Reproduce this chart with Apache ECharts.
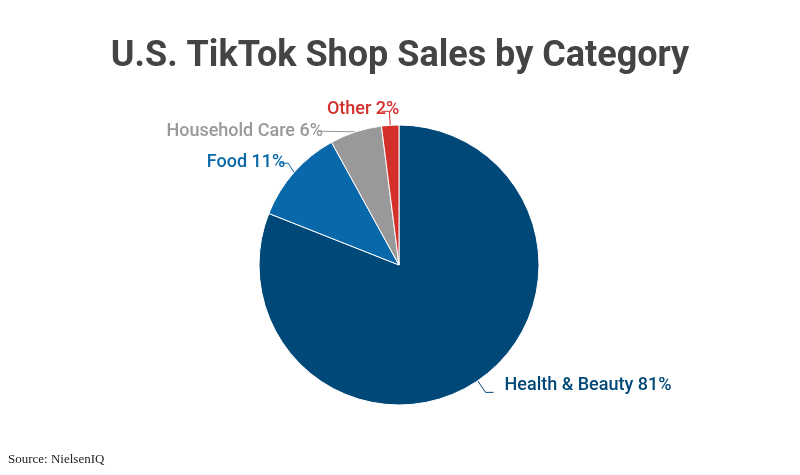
<!DOCTYPE html>
<html>
<head>
<meta charset="utf-8">
<script src="https://cdn.jsdelivr.net/npm/echarts@6/dist/echarts.min.js"></script>
<style>
  html, body { margin: 0; padding: 0; background: #fff; }
  #main { width: 800px; height: 475px; }
</style>
</head>
<body>
<div id="main"></div>
<script>
// data
var categories = ['Health & Beauty', 'Food', 'Household Care', 'Other'];
var shares = [81, 11, 6, 2];
var colors = ['#004877', '#0968a9', '#999999', '#d3302b'];
// label nudges [dx, dy]
var labelShift = [[6, -7], [10, -1], [9, 0], [23, -2]];

var myChart = echarts.init(document.getElementById('main'));

var data = categories.map(function (name, i) {
    return {
        value: shares[i],
        name: name,
        itemStyle: { color: colors[i] },
        label: { color: colors[i] },
        labelLine: { lineStyle: { color: colors[i] } }
    };
});

var option = {
    backgroundColor: '#fff',
    title: [{
        text: 'U.S. TikTok Shop Sales by Category',
        left: 'center',
        top: 34,
        textStyle: {
            fontFamily: 'Roboto',
            fontWeight: 'bold',
            fontSize: 36,
            color: '#444444'
        }
    }, {
        text: 'Source: NielsenIQ',
        left: 3,
        bottom: 4,
        textStyle: {
            fontFamily: 'Liberation Serif',
            fontWeight: 'normal',
            fontSize: 13,
            color: '#222222'
        }
    }],
    series: [{
        name: 'sales',
        type: 'pie',
        center: [399, 265],
        radius: [0, 140],
        startAngle: 90,
        clockwise: true,
        avoidLabelOverlap: true,
        itemStyle: {
            borderColor: '#ffffff',
            borderWidth: 1
        },
        label: {
            formatter: '{b} {c}%',
            fontFamily: 'Roboto',
            fontWeight: 500,
            fontSize: 18
        },
        labelLine: {
            length: 14,
            length2: 8,
            lineStyle: { width: 1 }
        },
        labelLayout: function (p) {
            var s = labelShift[p.dataIndex];
            return { dx: s[0], dy: s[1] };
        },
        data: data
    }]
};

myChart.setOption(option);
</script>
</body>
</html>
